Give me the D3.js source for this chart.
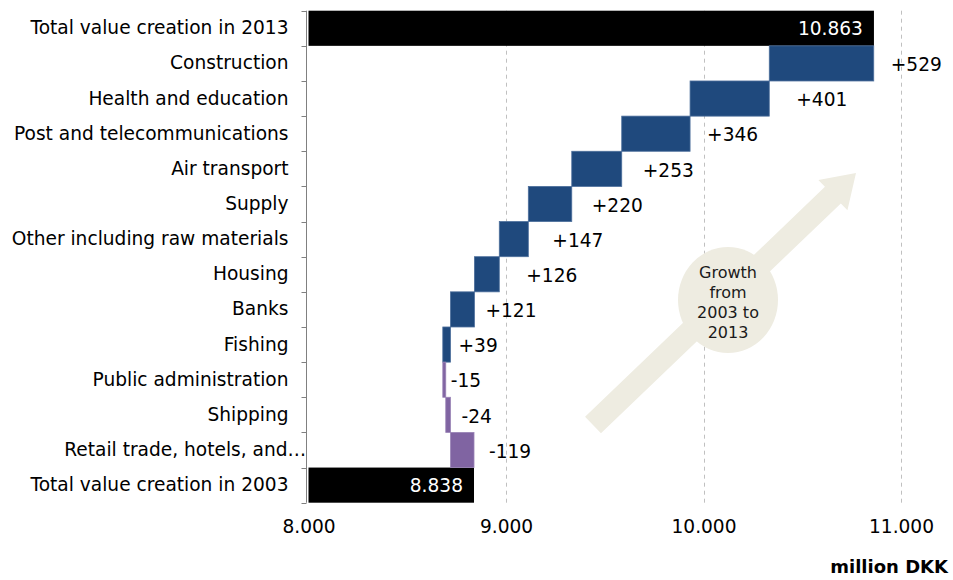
<!DOCTYPE html>
<html>
<head>
<meta charset="utf-8">
<script src="https://cdn.jsdelivr.net/npm/d3@7"></script>
<style>
  html, body { margin: 0; padding: 0; background: #fff; }
  svg { display: block; font-family: "DejaVu Sans", Verdana, sans-serif; }
</style>
</head>
<body>
<svg id="chart" width="953" height="580"></svg>
<script>
// Value creation by sector, million DKK (top-to-bottom order of the sector rows)
const sectors = [
  "Construction",
  "Health and education",
  "Post and telecommunications",
  "Air transport",
  "Supply",
  "Other including raw materials",
  "Housing",
  "Banks",
  "Fishing",
  "Public administration",
  "Shipping",
  "Retail trade, hotels, and…"
];
const changes = [529, 401, 346, 253, 220, 147, 126, 121, 39, -15, -24, -119];
const totalLabels = ["Total value creation in 2013", "Total value creation in 2003"];
const totals = [10863, 8838];
const xTickValues = [8000, 9000, 10000, 11000];
const calloutLines = ["Growth", "from", "2003 to", "2013"];

const categories = [totalLabels[0], ...sectors, totalLabels[1]];

// Danish-style number formatting (dot as thousands separator)
const dk = d3.formatLocale({ decimal: ",", thousands: ".", grouping: [3], currency: ["", " kr."] });
const fmtThousands = dk.format(",d");
const fmtDelta = v => (v > 0 ? "+" : "") + v;

// Waterfall: walk upward from the 2003 total
const steps = [];
let running = totals[1];
for (let i = sectors.length - 1; i >= 0; i--) {
  const from = running, to = running + changes[i];
  steps[i] = { name: sectors[i], value: changes[i], x0: Math.min(from, to), x1: Math.max(from, to) };
  running = to;
}

const svg = d3.select("#chart");
const FS = 18.6;
const axisX = 306.5;
const x = d3.scaleLinear().domain([8000, 11000]).range([308.5, 901]);
const y = d3.scaleBand().domain(categories).range([10.7, 502.7]).padding(0);

const BLUE = "#1f497d", PURPLE = "#8064a2", TAN = "#eeece1";

// Dashed vertical gridlines
svg.append("g").selectAll("line")
  .data(xTickValues.slice(1))
  .join("line")
  .attr("x1", d => Math.round(x(d)) + 0.5).attr("x2", d => Math.round(x(d)) + 0.5)
  .attr("y1", 10.7).attr("y2", 505)
  .attr("stroke", "#c0c0c0").attr("stroke-width", 1).attr("stroke-dasharray", "4,4");

// Callout arrow + ellipse (drawn behind the bars)
const tail = [593, 425], tip = [856, 173];
const len = Math.hypot(tip[0] - tail[0], tip[1] - tail[1]);
const u = [(tip[0] - tail[0]) / len, (tip[1] - tail[1]) / len];
const n = [-u[1], u[0]];
const shaftHalf = 11.5, headHalf = 21, headLen = 32;
const base = [tip[0] - headLen * u[0], tip[1] - headLen * u[1]];
const pt = (p, k) => [p[0] + k * n[0], p[1] + k * n[1]];
const arrowPts = [pt(tail, shaftHalf), pt(base, shaftHalf), pt(base, headHalf), tip,
                  pt(base, -headHalf), pt(base, -shaftHalf), pt(tail, -shaftHalf)];
svg.append("polygon")
  .attr("points", arrowPts.map(p => p.join(",")).join(" "))
  .attr("fill", TAN);
svg.append("ellipse")
  .attr("cx", 728).attr("cy", 300).attr("rx", 50).attr("ry", 53)
  .attr("fill", TAN);
svg.append("text")
  .attr("x", 728).attr("y", 278)
  .attr("text-anchor", "middle")
  .attr("font-size", 16).attr("fill", "#1a1a1a")
  .selectAll("tspan")
  .data(calloutLines)
  .join("tspan")
  .attr("x", 728).attr("dy", (d, i) => i === 0 ? 0 : 20)
  .text(d => d);

// Total bars
const totalData = totalLabels.map((name, i) => ({ name, value: totals[i] }));
svg.append("g").selectAll("rect")
  .data(totalData)
  .join("rect")
  .attr("x", x(8000)).attr("y", d => y(d.name))
  .attr("width", d => x(d.value) - x(8000)).attr("height", y.bandwidth())
  .attr("fill", "#000");
svg.append("g").selectAll("text")
  .data(totalData)
  .join("text")
  .attr("x", d => x(d.value) - 11).attr("y", d => y(d.name) + y.bandwidth() / 2)
  .attr("dy", "0.36em").attr("text-anchor", "end")
  .attr("font-size", FS).attr("fill", "#fff")
  .text(d => fmtThousands(d.value));

// Change bars
svg.append("g").selectAll("rect")
  .data(steps)
  .join("rect")
  .attr("x", d => x(d.x0)).attr("y", d => y(d.name))
  .attr("width", d => x(d.x1) - x(d.x0)).attr("height", y.bandwidth())
  .attr("fill", d => d.value >= 0 ? BLUE : PURPLE)
  .attr("stroke", d => d.value >= 0 ? "#4d6f9c" : "#9a84b6").attr("stroke-width", 0.8);

// Change labels, set just right of each bar
const labelNudge = [17, 27, 17, 21, 20, 24, 27, 11, 8, 5, 11, 15];
svg.append("g").selectAll("text")
  .data(steps)
  .join("text")
  .attr("x", (d, i) => x(d.x1) + labelNudge[i])
  .attr("y", d => y(d.name) + y.bandwidth() / 2 + 1)
  .attr("dy", "0.36em")
  .attr("font-size", FS).attr("fill", "#000")
  .text(d => fmtDelta(d.value));

// Category axis
const yAxis = svg.append("g")
  .attr("transform", `translate(${axisX},0)`)
  .call(d3.axisLeft(y).tickSize(0).tickPadding(18))
  .attr("font-family", null).attr("font-size", null);
yAxis.select(".domain").remove();
yAxis.selectAll("text").attr("font-size", FS).attr("fill", "#000");
// Truncated labels: the ellipsis hangs past the label column
yAxis.selectAll("text").each(function (d) {
  if (d.endsWith("…")) {
    const nChars = d.length;
    const w = this.getSubStringLength(nChars - 1, 1);
    d3.select(this).attr("dx", w * 0.95);
  }
});

const bounds = categories.map(c => y(c)).concat([y.range()[1]]);
svg.append("line")
  .attr("x1", axisX).attr("x2", axisX)
  .attr("y1", bounds[0]).attr("y2", bounds[bounds.length - 1])
  .attr("stroke", "#808080");
svg.append("g").selectAll("line")
  .data(bounds)
  .join("line")
  .attr("x1", axisX - 5).attr("x2", axisX)
  .attr("y1", d => Math.round(d) + 0.5).attr("y2", d => Math.round(d) + 0.5)
  .attr("stroke", "#808080");

// Value axis (labels only)
const xAxis = svg.append("g")
  .attr("transform", "translate(0,515)")
  .call(d3.axisBottom(x).tickValues(xTickValues).tickFormat(fmtThousands).tickSize(0).tickPadding(5))
  .attr("font-family", null).attr("font-size", null);
xAxis.select(".domain").remove();
xAxis.selectAll("text").attr("font-size", FS).attr("fill", "#000");

svg.append("text")
  .attr("x", 948).attr("y", 573)
  .attr("text-anchor", "end")
  .attr("font-size", 18).attr("font-weight", "bold").attr("fill", "#000")
  .text("million DKK");
</script>
</body>
</html>
